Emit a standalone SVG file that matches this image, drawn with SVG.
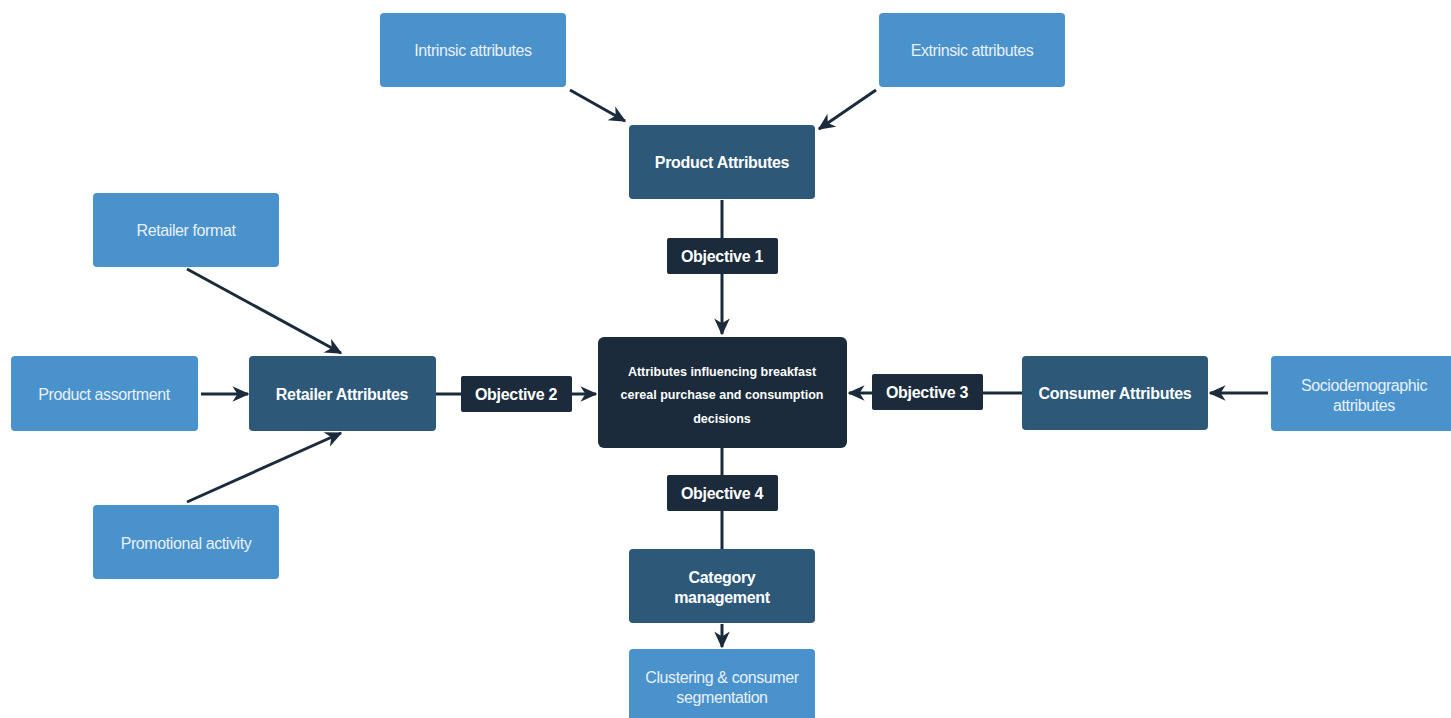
<svg xmlns="http://www.w3.org/2000/svg" width="1451" height="718" viewBox="0 0 1451 718">
<style>
.lt{fill:#4a92cc}
.md{fill:#2d5878}
.dk{fill:#1b2b3b}
text{font-family:"Liberation Sans",Arial,sans-serif;text-anchor:middle;dominant-baseline:central}
.tl{fill:#e8f0f7;font-size:16px;letter-spacing:-0.4px}
.tb{fill:#ffffff;font-size:16px;font-weight:bold;letter-spacing:-0.3px}
.tc{fill:#ffffff;font-size:12.5px;font-weight:bold}
.c{stroke:#1b2b3b;stroke-width:3;fill:none}
</style>
<defs>
<marker id="ah" viewBox="0 0 12 12" refX="11" refY="6" markerWidth="17" markerHeight="17" markerUnits="userSpaceOnUse" orient="auto">
<path d="M0,0.5 L12,6 L0,11.5 L3.5,6 z" fill="#1b2b3b"/>
</marker>
</defs>
<rect width="1451" height="718" fill="#ffffff"/>
<g id="connectors">
<line class="c" x1="570" y1="90" x2="625" y2="121" marker-end="url(#ah)"/>
<line class="c" x1="876" y1="90" x2="819" y2="129" marker-end="url(#ah)"/>
<line class="c" x1="722" y1="200" x2="722" y2="238"/>
<line class="c" x1="722" y1="274" x2="722" y2="334" marker-end="url(#ah)"/>
<line class="c" x1="187" y1="269" x2="341" y2="353" marker-end="url(#ah)"/>
<line class="c" x1="201" y1="394" x2="248" y2="394" marker-end="url(#ah)"/>
<line class="c" x1="187" y1="502" x2="341" y2="433" marker-end="url(#ah)"/>
<line class="c" x1="436" y1="394" x2="461" y2="394"/>
<line class="c" x1="572" y1="394" x2="596" y2="394" marker-end="url(#ah)"/>
<line class="c" x1="983" y1="393" x2="1022" y2="393"/>
<line class="c" x1="872" y1="393" x2="849" y2="393" marker-end="url(#ah)"/>
<line class="c" x1="1268" y1="393" x2="1210" y2="393" marker-end="url(#ah)"/>
<line class="c" x1="722" y1="448" x2="722" y2="475"/>
<line class="c" x1="722" y1="511" x2="722" y2="549"/>
<line class="c" x1="722" y1="624" x2="722" y2="647" marker-end="url(#ah)"/>
</g>
<g id="intrinsic"><rect class="lt" x="380" y="13" width="186" height="74" rx="4"/><text class="tl" x="473" y="50">Intrinsic attributes</text></g>
<g id="extrinsic"><rect class="lt" x="879" y="13" width="186" height="74" rx="4"/><text class="tl" x="972" y="50">Extrinsic attributes</text></g>
<g id="product"><rect class="md" x="629" y="125" width="186" height="74" rx="4"/><text class="tb" x="722" y="162">Product Attributes</text></g>
<g id="obj1"><rect class="dk" x="667" y="238" width="111" height="36" rx="2"/><text class="tb" x="722" y="256">Objective 1</text></g>
<g id="retailer-format"><rect class="lt" x="93" y="193" width="186" height="74" rx="4"/><text class="tl" x="186" y="230">Retailer format</text></g>
<g id="product-assortment"><rect class="lt" x="11" y="356" width="187" height="75" rx="4"/><text class="tl" x="104" y="394">Product assortment</text></g>
<g id="retailer"><rect class="md" x="249" y="356" width="187" height="75" rx="4"/><text class="tb" x="342" y="394">Retailer Attributes</text></g>
<g id="promotional"><rect class="lt" x="93" y="505" width="186" height="74" rx="4"/><text class="tl" x="186" y="543">Promotional activity</text></g>
<g id="obj2"><rect class="dk" x="461" y="376" width="111" height="36" rx="2"/><text class="tb" x="516" y="394">Objective 2</text></g>
<g id="center"><rect class="dk" x="598" y="337" width="249" height="111" rx="6"/>
<text class="tc" x="722" y="372">Attributes influencing breakfast</text>
<text class="tc" x="722" y="395">cereal purchase and consumption</text>
<text class="tc" x="722" y="419">decisions</text></g>
<g id="obj3"><rect class="dk" x="872" y="374" width="111" height="36" rx="2"/><text class="tb" x="927" y="392">Objective 3</text></g>
<g id="consumer"><rect class="md" x="1022" y="356" width="186" height="74" rx="4"/><text class="tb" x="1115" y="393">Consumer Attributes</text></g>
<g id="socio"><rect class="lt" x="1271" y="356" width="186" height="75" rx="4"/><text class="tl" x="1364" y="385">Sociodemographic</text><text class="tl" x="1364" y="405">attributes</text></g>
<g id="obj4"><rect class="dk" x="667" y="475" width="111" height="36" rx="2"/><text class="tb" x="722" y="493">Objective 4</text></g>
<g id="category"><rect class="md" x="629" y="549" width="186" height="74" rx="4"/><text class="tb" x="722" y="577">Category</text><text class="tb" x="722" y="597">management</text></g>
<g id="clustering"><rect class="lt" x="629" y="649" width="186" height="74" rx="4"/><text class="tl" x="722" y="677">Clustering &amp; consumer</text><text class="tl" x="722" y="697">segmentation</text></g>
</svg>
